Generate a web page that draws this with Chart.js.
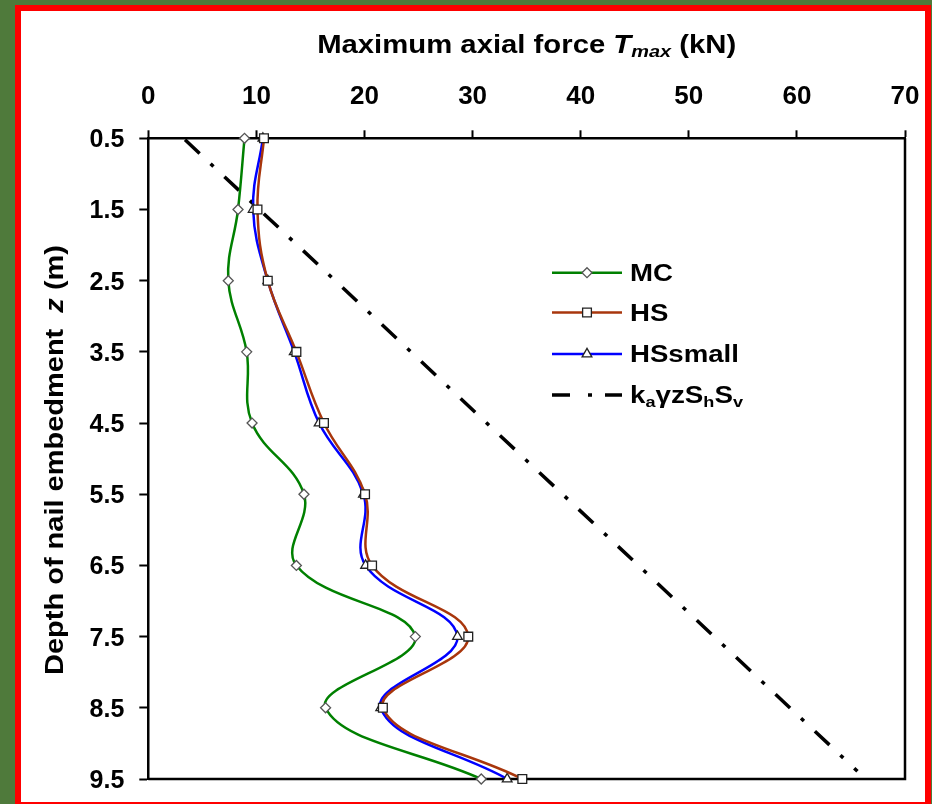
<!DOCTYPE html>
<html><head><meta charset="utf-8">
<script src="https://cdn.jsdelivr.net/npm/chart.js@4/dist/chart.umd.min.js"></script>
<style>
html,body{margin:0;padding:0;}
body{width:932px;height:804px;overflow:hidden;background:#4f7a3b;position:relative;}
#frame{position:absolute;left:15px;top:5px;width:916px;height:803px;box-sizing:border-box;border:6px solid #ff0000;background:#fff;}
#wrap{position:absolute;left:0;top:0;width:932px;height:804px;}
</style></head><body>
<div id="frame"></div>
<div id="wrap"><canvas id="c"></canvas></div>
<script>
// ---- data ----
const depths = [0.5, 1.5, 2.5, 3.5, 4.5, 5.5, 6.5, 7.5, 8.5, 9.5];
const mcValues = [8.9, 8.3, 7.4, 9.1, 9.6, 14.4, 13.7, 24.7, 16.4, 30.8];
const hsValues = [10.7, 10.1, 11.05, 13.7, 16.25, 20.05, 20.7, 29.6, 21.7, 34.6];
const hsSmallValues = [10.6, 9.7, 11.05, 13.5, 15.8, 19.9, 20.1, 28.6, 21.5, 33.2];
const kaDepths = [0.52, 9.39];
const kaValues = [3.4, 65.6];
const xTicks = [0, 10, 20, 30, 40, 50, 60, 70];
const yTicks = [0.5, 1.5, 2.5, 3.5, 4.5, 5.5, 6.5, 7.5, 8.5, 9.5];
const seriesNames = ['MC', 'HS', 'HSsmall'];

const FONT = "'Liberation Sans', Arial, sans-serif";
const colors = ['#008000', '#a8360c', '#0000ff'];
const styles = ['rectRot', 'rect', 'triangle'];
const radii = [5, 6.2, 5.6];
const values = [mcValues, hsValues, hsSmallValues];

const datasets = seriesNames.map((name, k) => ({
  label: name,
  data: depths.map((z, i) => ({x: values[k][i], y: z})),
  showLine: true,
  borderColor: colors[k],
  borderWidth: 2.5,
  tension: 0.4,
  pointStyle: styles[k],
  pointRadius: radii[k],
  pointBackgroundColor: '#fff',
  pointBorderColor: k === 0 ? '#555' : '#222',
  pointBorderWidth: 1.3,
  clip: false
}));
datasets.push({
  label: 'ka',
  data: kaDepths.map((z, i) => ({x: kaValues[i], y: z})),
  showLine: true,
  borderColor: '#000',
  borderWidth: 3.5,
  borderDash: [20, 15, 4, 15],
  pointRadius: 0,
  tension: 0,
  clip: false
});

function segWidth(ctx, segs) {
  let t = 0;
  segs.forEach(s => { ctx.font = s.font; s.w = ctx.measureText(s.text).width; t += s.w; });
  return t;
}
function drawSegs(ctx, segs, startX) {
  let cx = startX;
  segs.forEach(s => { ctx.font = s.font; ctx.fillText(s.text, cx, s.dy || 0); cx += s.w; });
}
function drawMarker(ctx, style, x, y, r, stroke) {
  ctx.save();
  ctx.fillStyle = '#fff'; ctx.strokeStyle = stroke; ctx.lineWidth = 1.3; ctx.setLineDash([]);
  ctx.beginPath();
  if (style === 'rectRot') {
    ctx.moveTo(x, y - r); ctx.lineTo(x + r, y); ctx.lineTo(x, y + r); ctx.lineTo(x - r, y); ctx.closePath();
  } else if (style === 'rect') {
    const s = r * Math.SQRT1_2; ctx.rect(x - s, y - s, 2 * s, 2 * s);
  } else {
    const w = r * Math.sqrt(3) / 2;
    ctx.moveTo(x, y - r); ctx.lineTo(x + w, y + r / 2); ctx.lineTo(x - w, y + r / 2); ctx.closePath();
  }
  ctx.fill(); ctx.stroke();
  ctx.restore();
}

const framePlugin = {
  id: 'frame',
  beforeDatasetsDraw(chart) {
    const {ctx, chartArea: a} = chart;
    ctx.save();
    ctx.strokeStyle = '#000'; ctx.lineWidth = 2.5;
    ctx.beginPath();
    ctx.moveTo(a.right, a.top); ctx.lineTo(a.right, a.bottom); ctx.lineTo(a.left, a.bottom);
    ctx.stroke();
    ctx.restore();
  }
};

const textPlugin = {
  id: 'texts',
  afterDraw(chart) {
    const ctx = chart.ctx;
    const a = chart.chartArea;
    ctx.save();
    ctx.fillStyle = '#000';
    ctx.textBaseline = 'alphabetic';
    ctx.textAlign = 'left';
    // x title
    const xs = [
      {text: 'Maximum axial force ', font: `bold 25px ${FONT}`},
      {text: 'T', font: `italic bold 25px ${FONT}`},
      {text: 'max', font: `italic bold 17px ${FONT}`, dy: 4},
      {text: ' (kN)', font: `bold 25px ${FONT}`}
    ];
    let tw = segWidth(ctx, xs);
    ctx.save();
    ctx.translate((a.left + a.right) / 2, 53);
    ctx.scale(419 / tw, 1);
    drawSegs(ctx, xs, -tw / 2);
    ctx.restore();
    // y title
    const ys = [
      {text: 'Depth of nail embedment  ', font: `bold 25px ${FONT}`},
      {text: 'z', font: `italic bold 25px ${FONT}`},
      {text: ' (m)', font: `bold 25px ${FONT}`}
    ];
    tw = segWidth(ctx, ys);
    ctx.save();
    ctx.translate(63, 460);
    ctx.rotate(-Math.PI / 2);
    ctx.scale(430 / tw, 1);
    drawSegs(ctx, ys, -tw / 2);
    ctx.restore();

    // legend
    const rowsY = [272.7, 312.5, 354, 395];
    const lx0 = 552, lx1 = 622, tx = 630;
    for (let k = 0; k < 3; k++) {
      const y = rowsY[k];
      ctx.save();
      ctx.strokeStyle = colors[k]; ctx.lineWidth = 2.5;
      ctx.beginPath(); ctx.moveTo(lx0, y); ctx.lineTo(lx1, y); ctx.stroke();
      ctx.restore();
      drawMarker(ctx, styles[k], (lx0 + lx1) / 2, y, radii[k], k === 0 ? '#555' : '#222');
      const seg = [{text: seriesNames[k], font: `bold 23px ${FONT}`}];
      segWidth(ctx, seg);
      ctx.save();
      ctx.translate(tx, y + 8);
      ctx.scale(1.2, 1);
      drawSegs(ctx, seg, 0);
      ctx.restore();
    }
    const ky = rowsY[3];
    ctx.save();
    ctx.strokeStyle = '#000'; ctx.lineWidth = 3.5;
    ctx.setLineDash([18, 18, 4, 13]);
    ctx.beginPath(); ctx.moveTo(lx0, ky); ctx.lineTo(lx1, ky); ctx.stroke();
    ctx.restore();
    const ks = [
      {text: 'k', font: `bold 23px ${FONT}`},
      {text: 'a', font: `bold 15px ${FONT}`, dy: 4},
      {text: '\u03B3z', font: `bold 23px ${FONT}`},
      {text: 'S', font: `bold 23px ${FONT}`},
      {text: 'h', font: `bold 15px ${FONT}`, dy: 4},
      {text: 'S', font: `bold 23px ${FONT}`},
      {text: 'v', font: `bold 15px ${FONT}`, dy: 4}
    ];
    tw = segWidth(ctx, ks);
    ctx.save();
    ctx.translate(tx, ky + 8);
    ctx.scale(113 / tw, 1);
    drawSegs(ctx, ks, 0);
    ctx.restore();
    ctx.restore();
  }
};

function zeroPad(s) { s.paddingLeft = 0; s.paddingRight = 0; s.paddingTop = 0; s.paddingBottom = 0; }

new Chart(document.getElementById('c'), {
  type: 'scatter',
  data: {datasets},
  options: {
    responsive: true,
    maintainAspectRatio: false,
    devicePixelRatio: 1,
    animation: false,
    layout: {autoPadding: false, padding: {left: 0, top: 0, right: 27, bottom: 25}},
    plugins: {legend: {display: false}, tooltip: {enabled: false}},
    scales: {
      x: {
        type: 'linear', position: 'top', min: 0, max: 70,
        afterBuildTicks: s => { s.ticks = xTicks.map(v => ({value: v})); },
        afterFit: s => { s.height = 138.3; zeroPad(s); },
        grid: {display: true, drawOnChartArea: false, drawTicks: true, tickLength: 8, tickWidth: 2, tickColor: '#000'},
        border: {display: true, color: '#000', width: 2.5},
        ticks: {font: {family: FONT, weight: 'bold', size: 26}, color: '#000', padding: 18, maxRotation: 0}
      },
      y: {
        type: 'linear', position: 'left', reverse: true, min: 0.5, max: 9.5,
        afterBuildTicks: s => { s.ticks = yTicks.map(v => ({value: v})); },
        afterFit: s => { s.width = 148.3; zeroPad(s); },
        grid: {display: true, drawOnChartArea: false, drawTicks: true, tickLength: 9, tickWidth: 2, tickColor: '#000'},
        border: {display: true, color: '#000', width: 2.5},
        ticks: {font: {family: FONT, weight: 'bold', size: 25}, color: '#000', padding: 15, labelOffset: 2,
                callback: v => Number(v).toFixed(1)}
      }
    }
  },
  plugins: [framePlugin, textPlugin]
});
</script>
</body></html>
